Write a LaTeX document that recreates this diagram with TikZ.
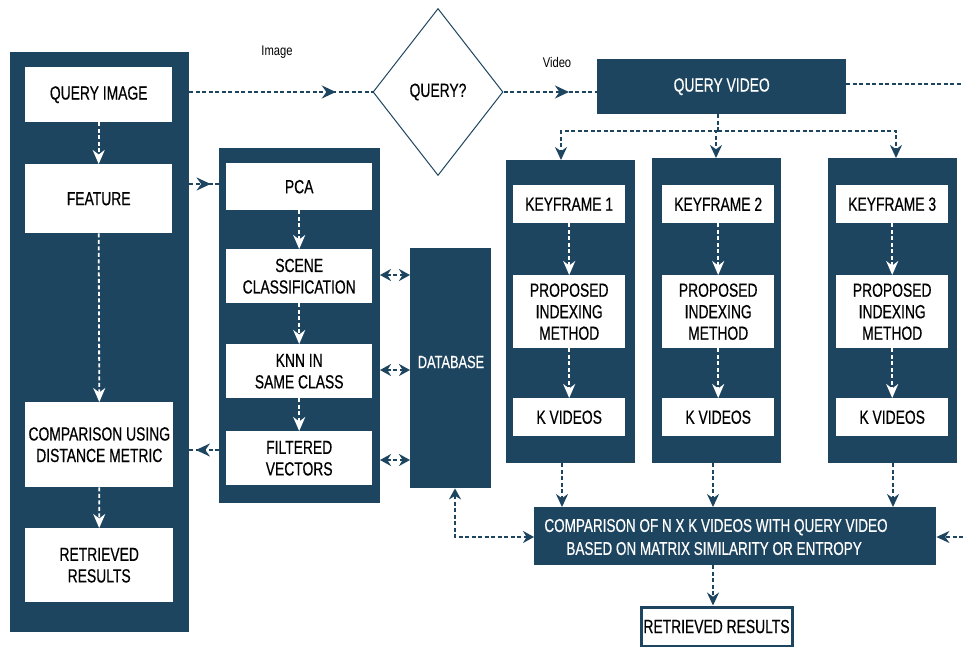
\documentclass[tikz,border=0pt]{standalone}
\usepackage{fontspec}
\setmainfont[FakeStretch=0.73,FakeBold=0.5]{Liberation Sans}
\newfontfamily\lblfont[FakeStretch=0.8]{Liberation Sans}
\usetikzlibrary{arrows.meta,decorations.markings,shapes.geometric,calc}
\definecolor{navy}{HTML}{1E4560}
\begin{document}
\begin{tikzpicture}[x=1pt,y=-1pt,
  font=\fontsize{19}{21.5}\selectfont,
  darkbox/.style={fill=navy,draw=none},
  whitebox/.style={fill=white,draw=none,align=center,text=black},
  dline/.style={dash pattern=on 4pt off 2.5pt,line width=1.8pt},
  navyarrow/.style={dline,draw=navy,-{Stealth[length=13pt,width=12pt]}},
  whitearr/.style={dline,draw=white,-{Stealth[length=14pt,width=12pt]}},
  navybi/.style={dline,draw=navy,{Stealth[length=11pt,width=12pt]}-{Stealth[length=11pt,width=12pt]}},
  midarrow/.style={dline,draw=navy,decoration={markings,mark=at position #1 with {\arrow{Stealth[length=14pt,width=13pt]}}},postaction={decorate}},
  lbl/.style={font=\lblfont\fontsize{14}{16}\selectfont,text=black}
]
\useasboundingbox (0,0) rectangle (963,646);
\fill[white] (0,0) rectangle (963,646);

% ---------- left column ----------
\node[darkbox,minimum width=179pt,minimum height=580pt,anchor=north west] (lcol) at (10,52) {};
\node[whitebox,minimum width=147pt,minimum height=55pt,anchor=north west] (qi) at (25,67) {QUERY IMAGE};
\node[whitebox,minimum width=147pt,minimum height=69pt,anchor=north west] (feat) at (25,164) {FEATURE};
\node[whitebox,minimum width=148pt,minimum height=85pt,anchor=north west] (cmpi) at (25,402) {COMPARISON USING\\DISTANCE METRIC};
\node[whitebox,minimum width=148pt,minimum height=74pt,anchor=north west] (rr1) at (25,528) {RETRIEVED\\RESULTS};
\draw[whitearr] (qi.south) -- (feat.north);
\draw[whitearr] (feat.south) -- (cmpi.north);
\draw[whitearr] (cmpi.south) -- (rr1.north);

% ---------- middle column ----------
\node[darkbox,minimum width=161pt,minimum height=355pt,anchor=north west] (mcol) at (219,148) {};
\node[whitebox,minimum width=146pt,minimum height=47pt,anchor=north west] (pca) at (226,163) {PCA};
\node[whitebox,minimum width=146pt,minimum height=54pt,anchor=north west] (scene) at (226,249) {SCENE\\CLASSIFICATION};
\node[whitebox,minimum width=146pt,minimum height=54pt,anchor=north west] (knn) at (226,344) {KNN IN\\SAME CLASS};
\node[whitebox,minimum width=146pt,minimum height=54pt,anchor=north west] (filt) at (226,431) {FILTERED\\VECTORS};
\draw[whitearr] (pca.south) -- (scene.north);
\draw[whitearr] (scene.south) -- (knn.north);
\draw[whitearr] (knn.south) -- (filt.north);

% ---------- database ----------
\node[darkbox,minimum width=81pt,minimum height=240pt,anchor=north west] (db) at (410,248) {};
\node[text=white,font=\fontsize{17.5}{19}\selectfont] (dbt) at (451,362) {DATABASE};

\coordinate (m1) at (380,275);
\coordinate (m2) at (380,370);
\coordinate (m3) at (380,460);
\draw[navybi] (m1) -- (db.west |- m1);
\draw[navybi] (m2) -- (db.west |- m2);
\draw[navybi] (m3) -- (db.west |- m3);

% feature -> middle, middle -> comparison
\coordinate (f1) at (189,184);
\coordinate (c1) at (219,450);
\draw[midarrow=0.72] (f1) -- (mcol.west |- f1);
\draw[midarrow=0.78] (c1) -- (lcol.east |- c1);

% ---------- query diamond ----------
\node[diamond,draw=navy,line width=1pt,fill=white,minimum width=130pt,minimum height=167pt,inner sep=0pt,aspect=0.78] (q) at (438,92) {QUERY?};
\coordinate (qiout) at (189,92);
\draw[midarrow=0.8] (qiout) -- (q.west);
\node[lbl] (limg) at (277,52) {Image};

% ---------- query video ----------
\node[darkbox,minimum width=249pt,minimum height=55pt,anchor=north west,text=white] (qv) at (597,59) {QUERY VIDEO};
\draw[midarrow=0.7] (q.east) -- (qv.west |- q.east);
\node[lbl] (lvid) at (557,62) {Video};
\coordinate (redge) at (963,84);
\draw[dline,draw=navy] (qv.east |- redge) -- (redge);

% ---------- keyframe columns ----------
\foreach \i/\x/\y in {1/506/160,2/652/158,3/828/158}{
  \node[darkbox,minimum width=129pt,minimum height={463-\y},anchor=north west] (k\i col) at (\x,\y) {};
}
\foreach \i/\x in {1/513,2/662,3/836}{
  \node[whitebox,minimum width=112pt,minimum height=38pt,anchor=north west] (kf\i) at (\x,185) {KEYFRAME \i};
  \node[whitebox,minimum width=112pt,minimum height=73pt,anchor=north west] (pim\i) at (\x,275) {PROPOSED\\INDEXING\\METHOD};
  \node[whitebox,minimum width=112pt,minimum height=38pt,anchor=north west] (kv\i) at (\x,398) {K VIDEOS};
  \draw[whitearr] (kf\i.south) -- (pim\i.north);
  \draw[whitearr] (pim\i.south) -- (kv\i.north);
}

\coordinate (split) at (718,131);
\draw[dline,draw=navy] (qv.south -| split) -- (split);
\draw[navyarrow] (split) -| (k1col.north -| 561,0);
\draw[navyarrow] (split) -| (k2col.north -| 716,0);
\draw[navyarrow] (split) -| (k3col.north -| 896,0);

% ---------- comparison ----------
\node[darkbox,minimum width=402pt,minimum height=58pt,anchor=north west] (cmp) at (534,507) {};
\node[text=white,align=left,font=\fontsize{18.5}{23}\selectfont] (cmpt) at (716,537) {COMPARISON OF N X K VIDEOS WITH QUERY VIDEO\\\hspace*{22pt}BASED ON MATRIX SIMILARITY OR ENTROPY};
\draw[navyarrow] (k1col.south -| 562,0) -- (cmp.north -| 562,0);
\draw[navyarrow] (k2col.south -| 713,0) -- (cmp.north -| 713,0);
\draw[navyarrow] (k3col.south -| 893,0) -- (cmp.north -| 893,0);

\coordinate (dbc) at (455,537);
\draw[navybi] (db.south -| dbc) -- (dbc) -- (cmp.west |- dbc);

\coordinate (redge2) at (963,537);
\draw[navyarrow] (redge2) -- (cmp.east |- redge2);

\node[draw=navy,line width=3pt,fill=white,minimum width=151pt,minimum height=39pt,anchor=north west,inner sep=0pt] (rr2) at (639.5,605.5) {RETRIEVED RESULTS};
\draw[navyarrow] (cmp.south -| 713,0) -- (rr2.north -| 713,0);
\end{tikzpicture}
\end{document}
